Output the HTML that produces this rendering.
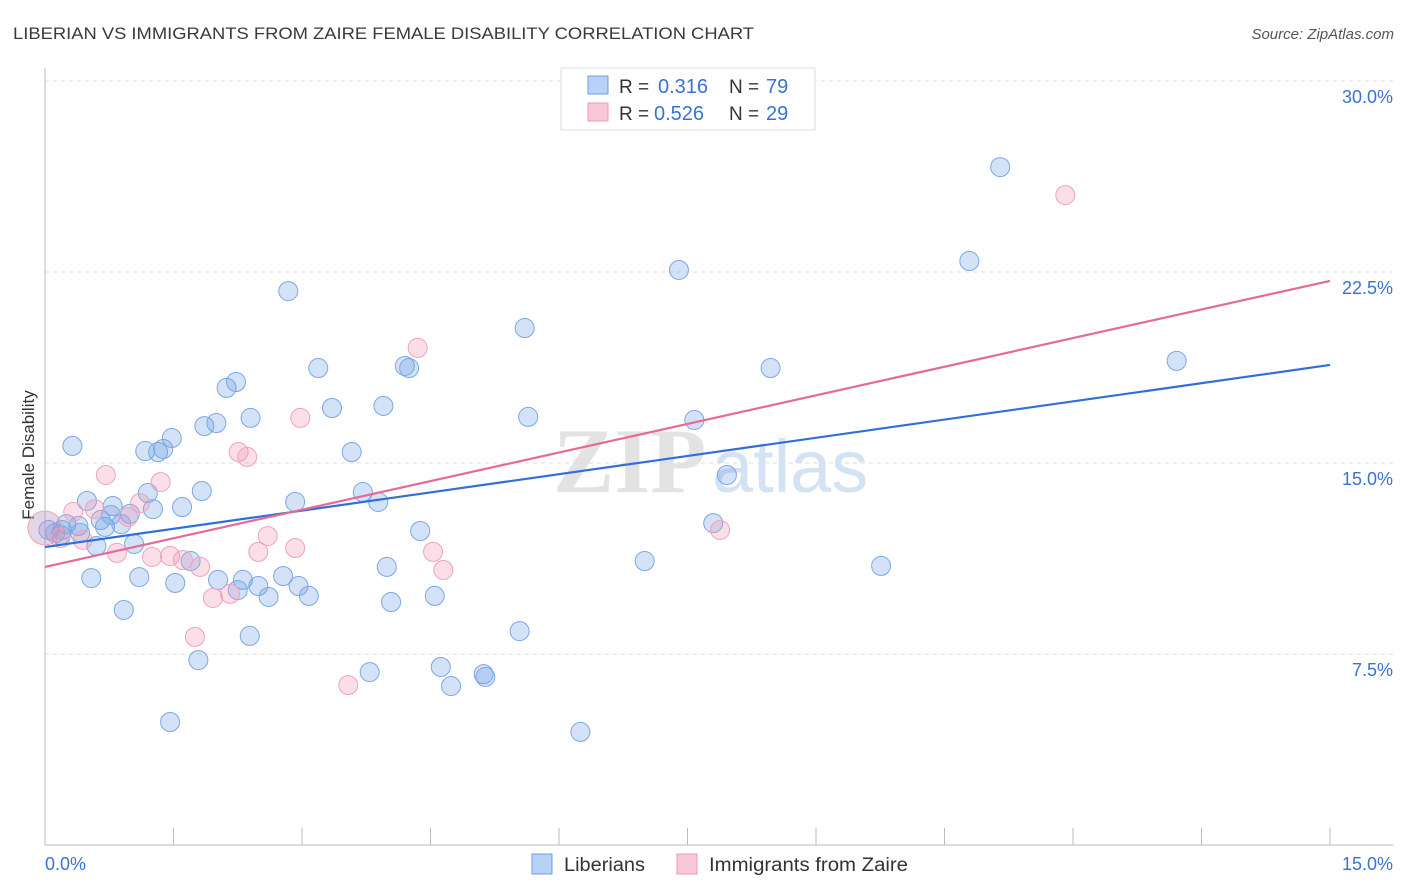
<!DOCTYPE html>
<html><head><meta charset="utf-8"><style>
body{margin:0;background:#fff;font-family:"Liberation Sans",sans-serif;}
#wrap{position:relative;width:1406px;height:892px;overflow:hidden;}
</style></head><body>
<div id="wrap">
<svg id="svg" width="1406" height="892" xmlns="http://www.w3.org/2000/svg">
<text x="13" y="39" font-size="17" fill="#3a3a3a" textLength="741" lengthAdjust="spacingAndGlyphs">LIBERIAN VS IMMIGRANTS FROM ZAIRE FEMALE DISABILITY CORRELATION CHART</text>
<text x="1394" y="39" font-size="15" fill="#555" font-style="italic" text-anchor="end">Source: ZipAtlas.com</text>
<g>
<text x="553" y="492" font-size="92" font-family="Liberation Serif,serif" fill="#e3e3e3" font-weight="bold">ZIP</text>
<text x="712" y="492" font-size="74" fill="#d4e3f4">atlas</text>
</g>
<g id="grid"></g>
<line x1="45" y1="68" x2="45" y2="845" stroke="#bbb"/>
<line x1="45" y1="845" x2="1393" y2="845" stroke="#bbb"/>
<text transform="translate(34,455) rotate(-90)" font-size="17" fill="#333" text-anchor="middle">Female Disability</text>
<g id="pts"></g>
<g id="trend"></g>
<g>
<rect x="561" y="68" width="254" height="62" fill="#fff" stroke="#ddd"/>
<rect x="588" y="76" width="20" height="18" fill="#b8d2f5" stroke="#6f9fe0"/>
<text x="619" y="93" font-size="19" fill="#333">R =</text>
<text x="658" y="93" font-size="20" fill="#3a72d0">0.316</text>
<text x="729" y="93" font-size="19" fill="#333">N =</text>
<text x="766" y="93" font-size="20" fill="#3a72d0">79</text>
<rect x="588" y="103" width="20" height="18" fill="#f8c8d6" stroke="#ee9ab5"/>
<text x="619" y="120" font-size="19" fill="#333">R =</text>
<text x="654" y="120" font-size="20" fill="#3a72d0">0.526</text>
<text x="729" y="120" font-size="19" fill="#333">N =</text>
<text x="766" y="120" font-size="20" fill="#3a72d0">29</text>
</g>
<g>
<rect x="532" y="854" width="20" height="20" fill="#b8d2f5" stroke="#6f9fe0"/>
<text x="564" y="871" font-size="19" fill="#333" textLength="81" lengthAdjust="spacingAndGlyphs">Liberians</text>
<rect x="677" y="854" width="20" height="20" fill="#f8c8d6" stroke="#ee9ab5"/>
<text x="709" y="871" font-size="19" fill="#333" textLength="199" lengthAdjust="spacingAndGlyphs">Immigrants from Zaire</text>
</g>
</svg>
</div>
<script>
const blueX=[0.32,0.49,0.25,0.39,0.41,0.18,0.12,0.65,0.70,0.79,0.77,0.89,0.99,1.04,0.60,0.54,0.92,1.10,1.20,1.26,1.17,1.32,1.38,1.48,1.60,1.52,1.70,1.83,1.79,1.46,1.86,2.00,2.12,2.23,2.40,2.02,2.31,2.25,2.49,2.61,2.39,2.84,2.92,2.78,2.96,3.08,3.19,3.35,3.58,3.71,3.89,3.95,3.99,4.04,3.79,4.20,4.25,4.38,4.55,4.62,4.74,5.12,5.14,5.54,5.60,5.64,6.25,7.00,7.40,7.58,7.96,7.80,8.47,9.76,10.79,11.15,13.21,0.04,0.20];
const blueY=[15.67,13.51,12.60,12.53,12.25,12.17,12.25,12.76,12.49,13.31,12.96,12.60,13.00,11.82,11.74,10.48,9.23,10.52,13.82,13.19,15.47,15.43,15.55,15.98,13.27,10.29,11.15,13.90,7.26,4.83,16.45,16.57,17.95,18.18,16.77,10.41,10.41,10.01,10.17,9.74,8.21,21.75,13.47,10.56,10.17,9.78,18.73,17.16,15.43,13.86,13.47,17.24,10.92,9.54,6.79,18.81,18.73,12.33,9.78,6.99,6.24,6.71,6.60,8.40,20.30,16.81,4.44,11.15,22.58,16.69,14.53,12.64,18.73,10.96,22.93,26.62,19.01,12.37,12.37];
const pinkX=[0.00,0.33,0.44,0.58,0.71,0.84,0.97,1.11,1.25,1.35,1.46,1.61,1.81,1.75,1.96,2.16,2.26,2.36,2.49,2.60,2.92,2.98,3.54,4.35,4.53,4.65,7.88,11.91,0.18];
const pinkY=[12.45,13.08,11.98,13.19,14.53,11.47,12.88,13.43,11.31,14.25,11.35,11.19,10.92,8.17,9.70,9.86,15.43,15.24,11.51,12.13,11.66,16.77,6.28,19.52,11.51,10.80,12.37,25.52,12.05];
const trendNames=["liberians","zaire"];
const trendStart=[11.70,10.92];
const trendEnd=[18.85,22.15];
const yTicks=[7.5,15,22.5,30];
const yTickLabels=["7.5%","15.0%","22.5%","30.0%"];
const xTicks=[0,1.5,3,4.5,6,7.5,9,10.5,12,13.5,15];
const xEndLabels=["0.0%","15.0%"];
const NS="http://www.w3.org/2000/svg";
const X=v=>45+v/15*1285, Y=v=>845-v/30*764;
function mk(t,a,p){const e=document.createElementNS(NS,t);for(const k in a)e.setAttribute(k,a[k]);p.appendChild(e);return e;}
const g=document.getElementById('grid');
yTicks.forEach((t,i)=>{
 const l=mk('line',{x1:45,x2:1393,y1:Y(t),y2:Y(t),stroke:'#ddd','stroke-dasharray':'4,4'},g);
 
 
 const tx=mk('text',{x:1393,y:Y(t)+22,'font-size':18,fill:'#3a72d0','text-anchor':'end'},g);
 tx.textContent=yTickLabels[i];
 
 
});
xTicks.forEach(t=>{
 const l=mk('line',{x1:X(t),x2:X(t),y1:828,y2:845,stroke:'#bbb'},g);
 
 
});
[[0,'start',45],[1,'end',1393]].forEach(([i,a,x])=>{
 const tx=mk('text',{x:x,y:870,'font-size':18,fill:'#3a72d0','text-anchor':a},g);
 tx.textContent=xEndLabels[i];
 
 
});
const p=document.getElementById('pts');
blueX.forEach((v,i)=>{
 const c=mk('circle',{cx:X(v),cy:Y(blueY[i]),r:9.5,fill:'rgba(110,160,230,0.3)',stroke:'#7ba8e4','stroke-width':1},p);
 
 
});
pinkX.forEach((v,i)=>{
 const c=mk('circle',{cx:X(v),cy:Y(pinkY[i]),r:i===0?17:9.5,fill:i===0?'rgba(190,150,200,0.4)':'rgba(240,150,180,0.3)',stroke:'#efa3bc','stroke-width':1},p);
 
 
});
const tr=document.getElementById('trend');
const cols=['#2f6fd6','#e56b97'];
trendNames.forEach((n,i)=>{
 const l=mk('line',{x1:X(0),y1:Y(trendStart[i]),x2:X(15),y2:Y(trendEnd[i]),stroke:cols[i],'stroke-width':2.2},tr);
 
 
});
</script>
</body></html>
